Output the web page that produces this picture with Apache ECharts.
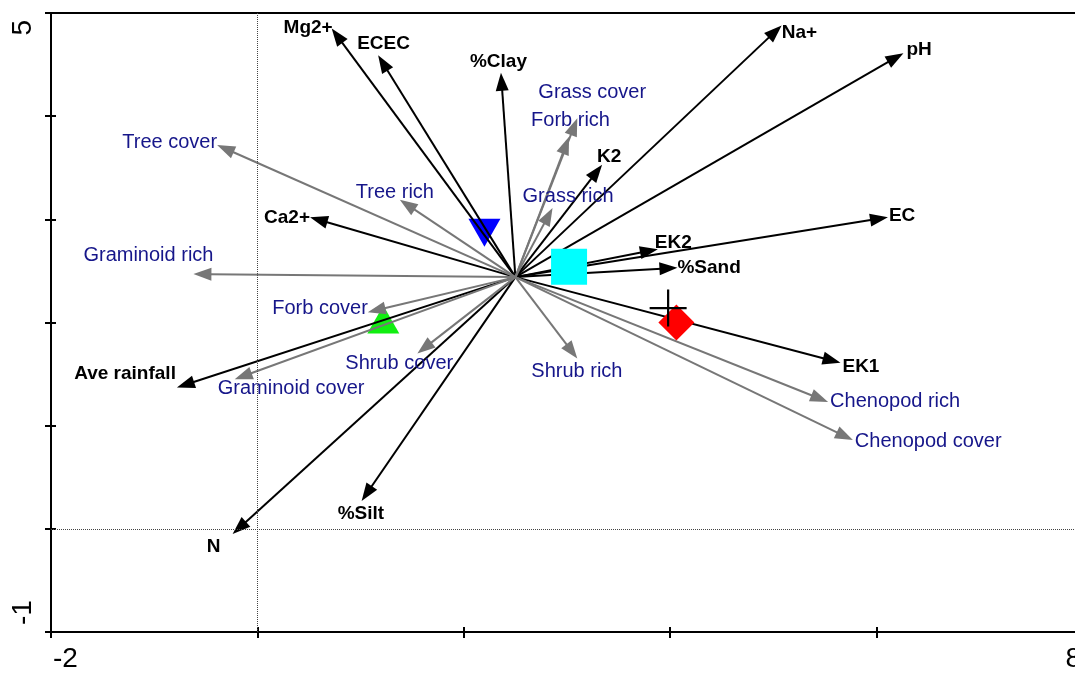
<!DOCTYPE html>
<html>
<head>
<meta charset="utf-8">
<script src="https://cdn.jsdelivr.net/npm/echarts@6/dist/echarts.min.js"></script>
<style>
  html, body { margin: 0; padding: 0; background: #fff; }
  #biplot { width: 1075px; height: 673px; }
</style>
</head>
<body>
<div id="biplot"></div>
<script>
// arrows all start from this point
const originX = 2.5;
const originY = 2.44;

// environmental variables (black arrows)
const envNames = ["Mg2+", "ECEC", "%Clay", "K2", "Na+", "pH", "EC", "EK2", "%Sand", "EK1", "Ca2+", "Ave rainfall", "N", "%Silt"];
const envX = [0.72, 1.17, 2.36, 3.34, 5.08, 6.26, 6.11, 3.88, 4.07, 5.65, 0.51, -0.78, -0.24, 1.01];
const envY = [4.85, 4.59, 4.42, 3.53, 4.88, 4.61, 3.02, 2.71, 2.53, 1.61, 3.02, 1.37, -0.05, 0.27];

// vegetation variables (grey arrows)
const spNames = ["Tree cover", "Tree rich", "Grass cover", "Forb rich", "Grass rich", "Graminoid rich", "Forb cover", "Graminoid cover", "Shrub cover", "Shrub rich", "Chenopod rich", "Chenopod cover"];
const spX = [-0.39, 1.38, 3.10, 3.02, 2.86, -0.62, 1.07, -0.22, 1.55, 3.10, 5.53, 5.77];
const spY = [3.72, 3.19, 3.98, 3.80, 3.11, 2.47, 2.10, 1.45, 1.70, 1.65, 1.23, 0.86];

// group centroids
const blueTri = [2.20, 2.87];
const greenTri = [1.22, 2.03];
const cyanSquare = [3.02, 2.54];
const redDiamond = [4.06, 2.00];
const crossPt = [3.98, 2.14];

// tick labels
const xLabelValues = [-2, 8];
const yLabelValues = [-1, 5];

// label placement next to arrow tips: [dx, dy, align] in px
const labelNudge = {
    "Mg2+": [1, -1, "right"],
    "ECEC": [-21, -12, "left"],
    "%Clay": [-31, -11, "left"],
    "K2": [-5, -8, "left"],
    "Na+": [0, 7, "left"],
    "pH": [3, -3, "left"],
    "EC": [1, -2, "left"],
    "EK2": [-3, -6, "left"],
    "%Sand": [0, 0, "left"],
    "EK1": [2, 4, "left"],
    "Ca2+": [0, 0, "right"],
    "Ave rainfall": [-1, -14, "right"],
    "N": [-26, 13, "left"],
    "%Silt": [-24, 13, "left"],
    "Tree cover": [0, -3, "right"],
    "Tree rich": [-44, -7, "left"],
    "Grass cover": [-39, -26, "left"],
    "Forb rich": [-38, -16, "left"],
    "Grass rich": [-30, -12, "left"],
    "Graminoid rich": [-110, -19, "left"],
    "Forb cover": [0, -4, "right"],
    "Graminoid cover": [-17, 9, "left"],
    "Shrub cover": [-72, 10, "left"],
    "Shrub rich": [-46, 13, "left"],
    "Chenopod rich": [2, 0, "left"],
    "Chenopod cover": [2, 1, "left"]
};

const fontFam = 'Arial, "Liberation Sans", sans-serif';

const arrowRenderer = (names, lineColor, textColor, fontWeight, fontSize) => (params, api) => {
    const name = names[params.dataIndex];
    const o = api.coord([originX, originY]);
    const t = api.coord([api.value(0), api.value(1)]);
    const dx = t[0] - o[0], dy = t[1] - o[1];
    const len = Math.hypot(dx, dy);
    const ux = dx / len, uy = dy / len;
    const headLen = 18, headHalf = 6.5;
    const bx = t[0] - ux * headLen, by = t[1] - uy * headLen;
    const nudge = labelNudge[name] || [4, 0, "left"];
    return {
        type: "group",
        children: [
            {
                type: "line",
                shape: { x1: o[0], y1: o[1], x2: bx + ux * 2, y2: by + uy * 2 },
                style: { stroke: lineColor, lineWidth: 2 }
            },
            {
                type: "polygon",
                shape: { points: [t, [bx - uy * headHalf, by + ux * headHalf], [bx + uy * headHalf, by - ux * headHalf]] },
                style: { fill: lineColor }
            },
            {
                type: "text",
                x: t[0] + nudge[0],
                y: t[1] + nudge[1],
                style: {
                    text: name,
                    align: nudge[2],
                    verticalAlign: "middle",
                    fill: textColor,
                    fontSize: fontSize,
                    fontWeight: fontWeight,
                    fontFamily: fontFam
                }
            }
        ]
    };
};

const chart = echarts.init(document.getElementById("biplot"));

const baseX = { type: "value", min: -2, max: 8, interval: 2, splitLine: { show: false } };
const baseY = { type: "value", min: -1, max: 5, interval: 1, splitLine: { show: false } };

const option = {
    animation: false,
    backgroundColor: "#fff",
    // plot runs a little past the right edge of the window
    grid: { left: 51, top: 13, width: 1032, bottom: 41, outerBoundsMode: "none", containLabel: false },
    xAxis: [
        {
            ...baseX,
            position: "bottom",
            axisLine: { onZero: false, lineStyle: { color: "#000", width: 2 } },
            axisTick: { length: 6, lineStyle: { color: "#000", width: 2 } },
            axisLabel: {
                showMinLabel: true,
                showMaxLabel: true,
                alignMinLabel: "left",
                alignMaxLabel: "right",
                margin: 13,
                padding: [0, 2],
                fontSize: 28,
                color: "#000",
                fontFamily: fontFam,
                formatter: v => xLabelValues.includes(v) ? String(v) : ""
            }
        },
        {
            ...baseX,
            position: "bottom",
            axisLine: { show: false, onZero: false },
            axisTick: { inside: true, length: 5, lineStyle: { color: "#000", width: 2 } },
            axisLabel: { show: false }
        },
        {
            ...baseX,
            position: "top",
            axisLine: { onZero: false, lineStyle: { color: "#000", width: 2 } },
            axisTick: { show: false },
            axisLabel: { show: false }
        }
    ],
    yAxis: [
        {
            ...baseY,
            position: "left",
            axisLine: { onZero: false, lineStyle: { color: "#000", width: 2 } },
            axisTick: { length: 6, lineStyle: { color: "#000", width: 2 } },
            axisLabel: {
                rotate: 90,
                showMinLabel: true,
                showMaxLabel: true,
                alignMinLabel: "left",
                alignMaxLabel: "right",
                margin: 14,
                padding: [0, 7],
                fontSize: 28,
                color: "#000",
                fontFamily: fontFam,
                formatter: v => yLabelValues.includes(v) ? String(v) : ""
            }
        },
        {
            ...baseY,
            position: "left",
            axisLine: { show: false, onZero: false },
            axisTick: { inside: true, length: 5, lineStyle: { color: "#000", width: 2 } },
            axisLabel: { show: false }
        }
    ],
    series: [
        {
            type: "scatter",
            z: 1,
            symbol: "triangle",
            symbolRotate: 180,
            symbolSize: [32, 28],
            itemStyle: { color: "#0000ff", opacity: 1 },
            data: [blueTri],
            markLine: {
                silent: true,
                symbol: "none",
                label: { show: false },
                lineStyle: { type: "dotted", color: "#444", width: 1 },
                data: [{ xAxis: 0 }, { yAxis: 0 }]
            }
        },
        {
            type: "scatter",
            z: 1,
            symbol: "triangle",
            symbolSize: [32, 28],
            itemStyle: { color: "#11ee11", opacity: 1 },
            data: [greenTri]
        },
        {
            type: "custom",
            z: 2,
            encode: { x: 0, y: 1 },
            renderItem: arrowRenderer(envNames, "#000", "#000", "bold", 19),
            data: envX.map((x, i) => [x, envY[i]])
        },
        {
            type: "custom",
            z: 2,
            encode: { x: 0, y: 1 },
            renderItem: arrowRenderer(spNames, "#777", "#16168a", "normal", 20),
            data: spX.map((x, i) => [x, spY[i]])
        },
        {
            type: "scatter",
            z: 3,
            symbol: "rect",
            symbolSize: 36,
            itemStyle: { color: "#00ffff", opacity: 1 },
            data: [cyanSquare]
        },
        {
            type: "scatter",
            z: 3,
            symbol: "diamond",
            symbolSize: 36,
            itemStyle: { color: "#ff0000", opacity: 1 },
            data: [redDiamond]
        },
        {
            type: "scatter",
            z: 4,
            symbol: "path://M0,18.8 L40,18.8 L40,21.2 L0,21.2 Z M18.8,0 L21.2,0 L21.2,40 L18.8,40 Z",
            symbolSize: 37,
            itemStyle: { color: "#000", opacity: 1 },
            data: [crossPt]
        }
    ]
};

chart.setOption(option);
</script>
</body>
</html>
